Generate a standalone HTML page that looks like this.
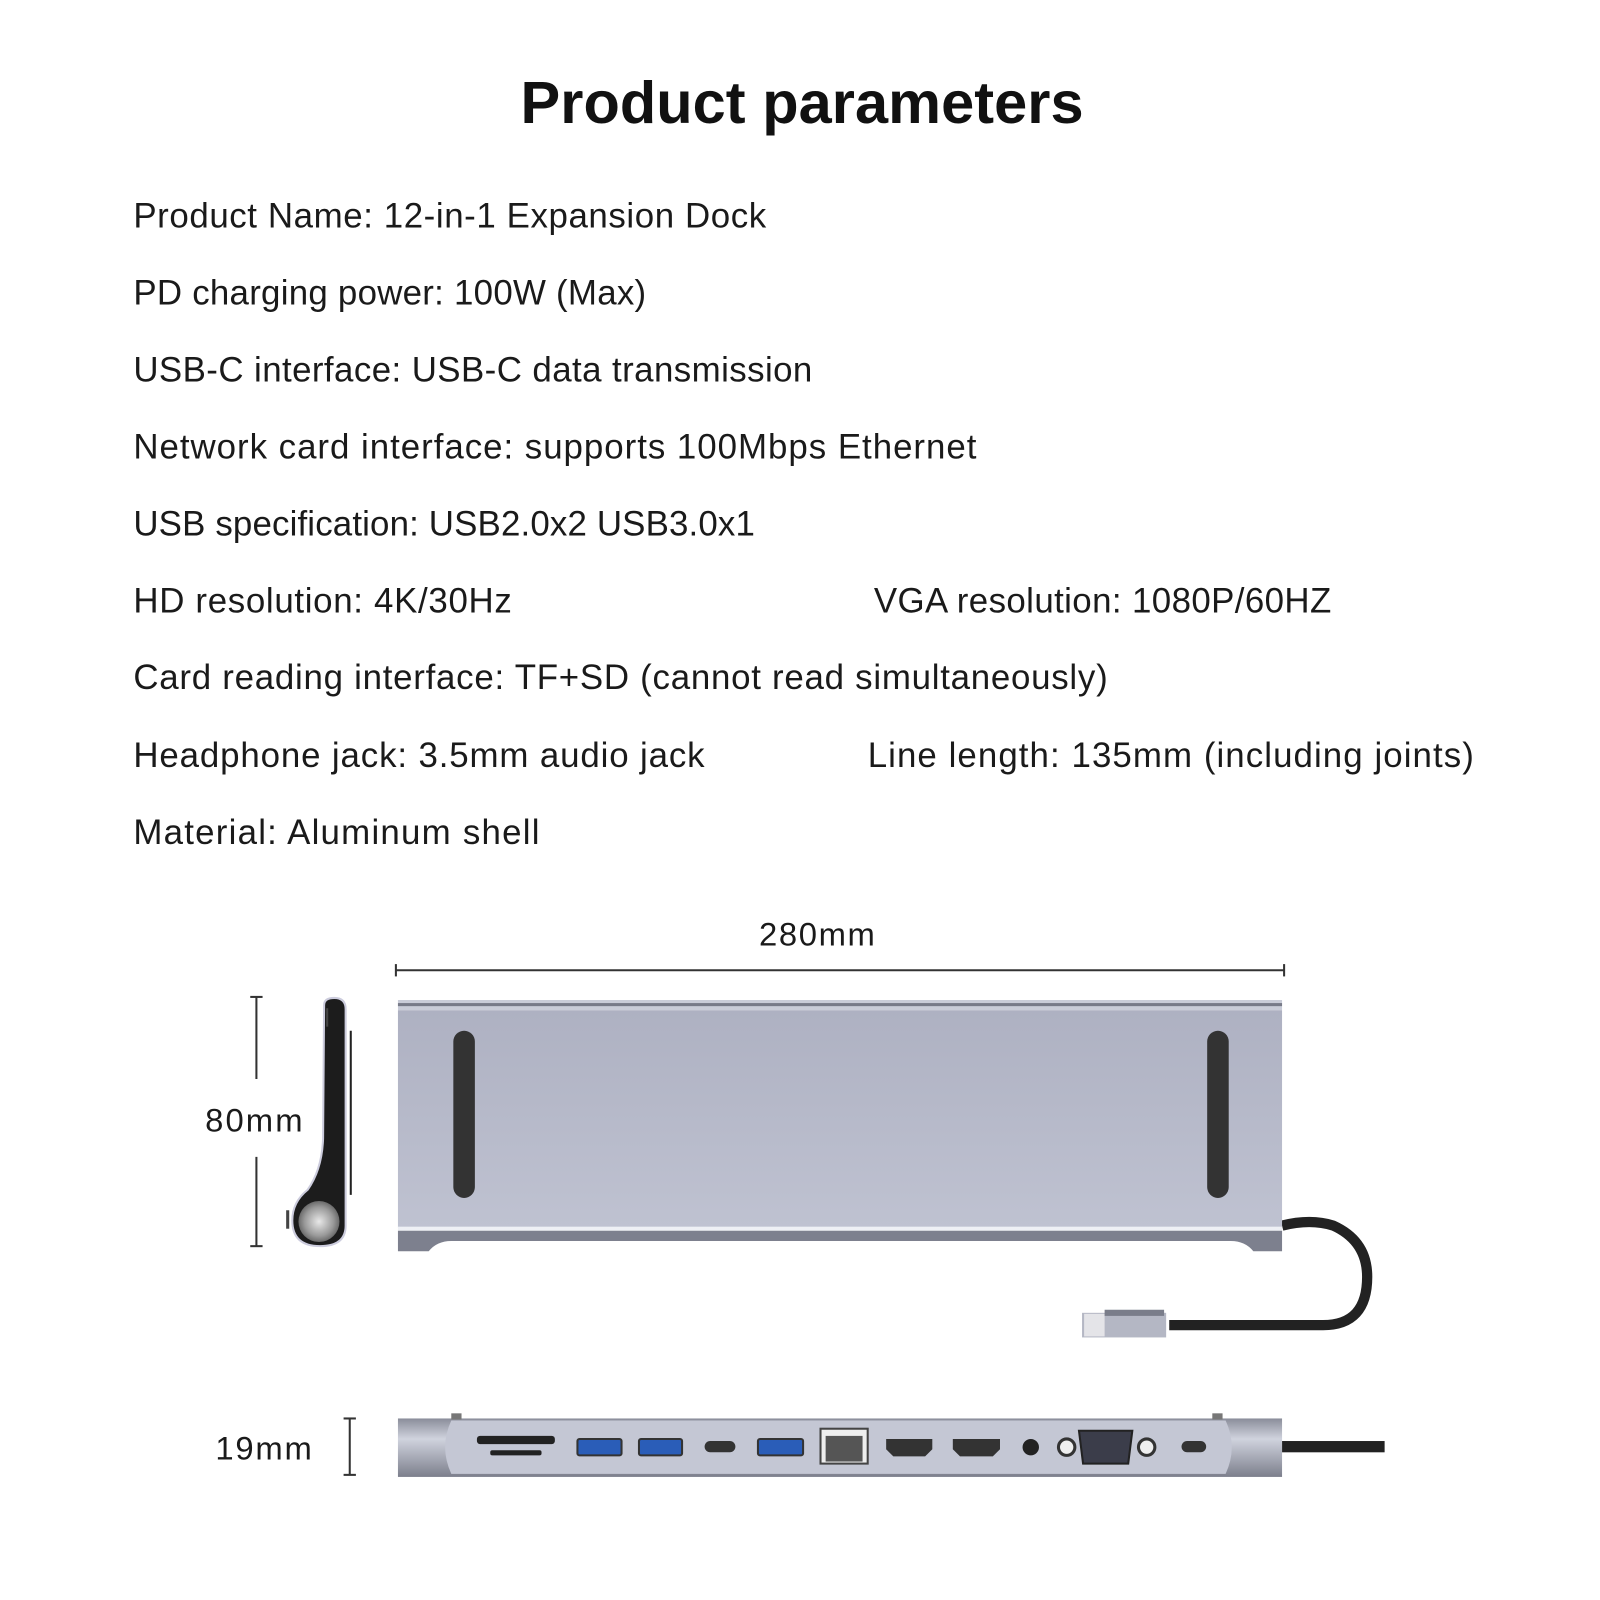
<!DOCTYPE html>
<html><head><meta charset="utf-8"><style>html,body{margin:0;padding:0;background:#fff}svg{display:block}</style></head>
<body>
<svg width="1600" height="1600" viewBox="0 0 1560 1560" xmlns="http://www.w3.org/2000/svg" font-family="Liberation Sans, sans-serif">
<defs>
<linearGradient id="body" x1="0" y1="0" x2="0" y2="1"><stop offset="0" stop-color="#aeb1c2"/><stop offset="1" stop-color="#bfc2d1"/></linearGradient>
<linearGradient id="bar" x1="0" y1="0" x2="0" y2="1"><stop offset="0" stop-color="#8a8d9a"/><stop offset=".35" stop-color="#d0d3de"/><stop offset="1" stop-color="#7c7f8c"/></linearGradient>
<radialGradient id="knob" cx=".5" cy=".5" r=".5"><stop offset="0" stop-color="#e8e8e8"/><stop offset=".7" stop-color="#9a9a9a"/><stop offset="1" stop-color="#6a6a6a"/></radialGradient>
</defs>
<text x="782" y="120" font-size="58" font-weight="bold" text-anchor="middle" textLength="549" fill="#111">Product parameters</text>
<g font-size="34" fill="#1a1a1a">
<text x="130" y="222" textLength="617">Product Name: 12-in-1 Expansion Dock</text>
<text x="130" y="297" textLength="500">PD charging power: 100W (Max)</text>
<text x="130" y="372" textLength="662">USB-C interface: USB-C data transmission</text>
<text x="130" y="447" textLength="822">Network card interface: supports 100Mbps Ethernet</text>
<text x="130" y="522" textLength="606">USB specification: USB2.0x2 USB3.0x1</text>
<text x="130" y="597" textLength="369">HD resolution: 4K/30Hz</text>
<text x="852" y="597" textLength="446">VGA resolution: 1080P/60HZ</text>
<text x="130" y="672" textLength="950">Card reading interface: TF+SD (cannot read simultaneously)</text>
<text x="130" y="748" textLength="557">Headphone jack: 3.5mm audio jack</text>
<text x="846" y="748" textLength="591">Line length: 135mm (including joints)</text>
<text x="130" y="823" textLength="396">Material: Aluminum shell</text>
</g>
<g font-size="32" fill="#1a1a1a">
<text x="740" y="922" textLength="113">280mm</text>
<text x="200" y="1103" textLength="95">80mm</text>
<text x="210" y="1423" textLength="94">19mm</text>
</g>
<g stroke="#333" stroke-width="2">
<line x1="386" y1="946" x2="1252" y2="946"/><line x1="386" y1="940" x2="386" y2="952"/><line x1="1252" y1="940" x2="1252" y2="952"/>
<line x1="250" y1="972" x2="250" y2="1052"/><line x1="250" y1="1128" x2="250" y2="1215"/>
<line x1="244" y1="972" x2="256" y2="972"/><line x1="244" y1="1215" x2="256" y2="1215"/>
<line x1="341" y1="1383" x2="341" y2="1438"/><line x1="335" y1="1383" x2="347" y2="1383"/><line x1="335" y1="1438" x2="347" y2="1438"/>
</g>
<!-- side profile -->
<path d="M316 980 Q316 973 326 973 Q337 973 337 984 L337 1195 Q337 1215 312 1215 Q285 1215 285 1190 Q285 1172 300 1160 Q314 1140 315 1110 Z" fill="#1c1c1c" stroke="#ccd" stroke-width="2"/>
<line x1="342" y1="1005" x2="342" y2="1165" stroke="#222" stroke-width="2"/>
<rect x="318" y="983" width="2" height="18" fill="#444"/>
<rect x="279" y="1180" width="3" height="18" fill="#444"/>
<circle cx="311" cy="1191" r="20" fill="url(#knob)"/>
<!-- top view -->
<path d="M1250 1195 Q1278 1188 1300 1195 Q1333 1210 1333 1245 Q1333 1292 1290 1292 L1140 1292" fill="none" stroke="#222" stroke-width="10"/>
<rect x="1055" y="1280" width="82" height="24" fill="#b4b7c4"/>
<rect x="1057" y="1281" width="20" height="22" fill="#e4e4e8"/>
<rect x="1077" y="1277" width="58" height="6" fill="#7a7d8a"/>
<rect x="388" y="975" width="862" height="10" fill="#c9ccd8"/>
<rect x="388" y="978" width="862" height="3" fill="#777a88"/>
<rect x="388" y="985" width="862" height="212" fill="url(#body)"/>
<rect x="388" y="1196" width="862" height="4" fill="#eef0f5"/>
<path d="M388 1200 L1250 1200 L1250 1220 L1222 1220 Q1214 1210 1200 1210 L440 1210 Q426 1210 418 1220 L388 1220 Z" fill="#7d808e"/>
<rect x="442" y="1005" width="21" height="163" rx="10.5" fill="#333"/>
<rect x="1177" y="1005" width="21" height="163" rx="10.5" fill="#333"/>
<!-- bottom view -->
<rect x="1250" y="1405" width="100" height="11" fill="#222"/>
<rect x="388" y="1383" width="862" height="57" fill="url(#bar)"/>
<path d="M440 1385 Q428 1411 440 1437 L1195 1437 Q1207 1411 1195 1385 Z" fill="#c4c7d4"/>
<rect x="440" y="1378" width="10" height="6" fill="#777"/><rect x="1182" y="1378" width="10" height="6" fill="#777"/>
<rect x="465" y="1400" width="76" height="8" rx="3" fill="#222"/>
<rect x="478" y="1414" width="50" height="5" rx="2" fill="#222"/>
<g fill="#2a5db8" stroke="#333" stroke-width="2">
<rect x="563" y="1403" width="43" height="16" rx="2"/><rect x="623" y="1403" width="42" height="16" rx="2"/><rect x="739" y="1403" width="44" height="16" rx="2"/>
</g>
<rect x="687" y="1405" width="30" height="11" rx="5.5" fill="#333"/>
<rect x="1152" y="1405" width="24" height="11" rx="5.5" fill="#333"/>
<rect x="800" y="1393" width="46" height="34" fill="#eee" stroke="#444" stroke-width="2"/>
<rect x="805" y="1400" width="36" height="25" fill="#555"/>
<path d="M864 1403 L909 1403 L909 1413 L902 1420 L871 1420 L864 1413Z" fill="#333"/>
<path d="M929 1403 L975 1403 L975 1413 L968 1420 L936 1420 L929 1413Z" fill="#333"/>
<circle cx="1005" cy="1411" r="8" fill="#222"/>
<circle cx="1040" cy="1411" r="8" fill="#eee" stroke="#333" stroke-width="3"/>
<circle cx="1118" cy="1411" r="8" fill="#eee" stroke="#333" stroke-width="3"/>
<path d="M1052 1395 L1104 1395 L1100 1427 L1056 1427Z" fill="#3b3d4a" stroke="#222" stroke-width="2"/>
</svg>
</body></html>
